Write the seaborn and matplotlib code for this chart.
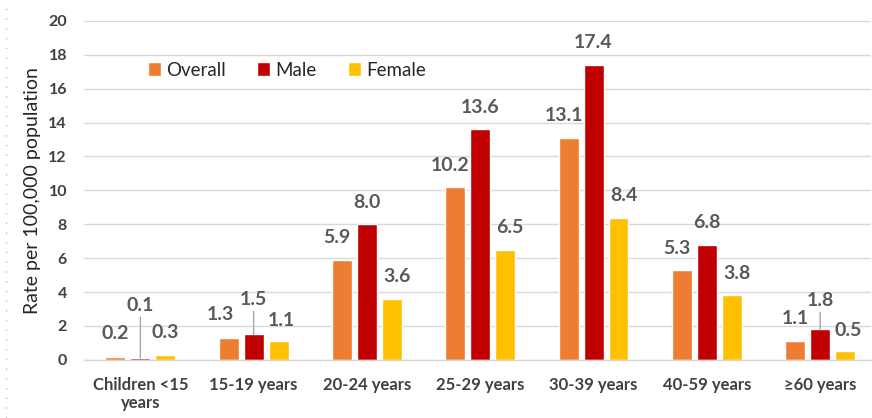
import pandas as pd
import seaborn as sns
import matplotlib.pyplot as plt
from matplotlib.lines import Line2D

# data
age_groups = ['Children <15\nyears', '15-19 years', '20-24 years', '25-29 years',
              '30-39 years', '40-59 years', '≥60 years']
overall = [0.2, 1.3, 5.9, 10.2, 13.1, 5.3, 1.1]
male = [0.1, 1.5, 8.0, 13.6, 17.4, 6.8, 1.8]
female = [0.3, 1.1, 3.6, 6.5, 8.4, 3.8, 0.5]
series = ['Overall', 'Male', 'Female']
colors = {'Overall': '#ED7D31', 'Male': '#C00000', 'Female': '#FFC000'}

df = pd.DataFrame({
    'group': age_groups * 3,
    'sex': ['Overall'] * 7 + ['Male'] * 7 + ['Female'] * 7,
    'rate': overall + male + female,
})

sns.set_style('white')
plt.rcParams['font.family'] = ['Lato', 'DejaVu Sans']

fig = plt.figure(figsize=(8.72, 4.18), dpi=100)
ax = fig.add_axes([0.096, 0.139, 0.903, 0.811])

sns.barplot(data=df, x='group', y='rate', hue='sex', order=age_groups,
            hue_order=series, palette=colors, width=0.66, gap=0.2,
            saturation=1, ax=ax, legend=True)

ax.set_ylim(0, 20)
ax.set_xlim(-0.5, 6.45)
ax.set_yticks(range(0, 21, 2))
ax.yaxis.grid(True, color='#D9D9D9', linewidth=1)
ax.set_axisbelow(True)
for s in ['top', 'right', 'left']:
    ax.spines[s].set_visible(False)
ax.spines['bottom'].set_color('#D9D9D9')
ax.spines['bottom'].set_linewidth(1)
ax.tick_params(axis='y', length=0, pad=12, labelsize=11.5, labelcolor='#404040')
ax.tick_params(axis='x', length=0, pad=12, labelsize=12, labelcolor='#404040')
for lbl in ax.get_xticklabels() + ax.get_yticklabels():
    lbl.set_fontweight('bold')
ax.set_xlabel('')
ax.set_ylabel('Rate per 100,000 population', fontsize=14, color='#262626', labelpad=5)

# value labels: default offset per series, a few moved up with leader lines
dx = {'Overall': -5, 'Male': 0, 'Female': 5}
moved = {(0, 'Male'): (0, 53), (1, 'Male'): (0, 35), (6, 'Male'): (0, 29),
         (0, 'Overall'): (0, 23), (0, 'Female'): (0, 22),
         (1, 'Overall'): (-8, 23), (1, 'Female'): (3, 21),
         (6, 'Overall'): (0, 23), (6, 'Female'): (3, 21)}
for name, cont in zip(series, ax.containers):
    for i, bar in enumerate(cont):
        h = bar.get_height()
        x = bar.get_x() + bar.get_width() / 2
        ox, oy = moved.get((i, name), (dx[name], 22))
        ax.annotate(f'{h:.1f}', (x, h), xytext=(ox, oy), textcoords='offset pixels',
                    ha='center', va='center', fontsize=14, fontweight='bold',
                    color='#595959')
        if oy > 28:
            ax.annotate('', (x, h), xytext=(0, oy - 12), textcoords='offset pixels',
                        arrowprops=dict(arrowstyle='-', color='#A6A6A6', lw=1,
                                        shrinkA=0, shrinkB=0))

ax.legend(title=None, frameon=False, ncol=3, fontsize=13.5,
          loc='center left', bbox_to_anchor=(0.06, 0.855),
          handlelength=0.7, handleheight=0.7, handletextpad=0.25,
          columnspacing=1.7, labelcolor='#262626')

# faint dotted line along the left edge
fig.add_artist(Line2D([0.007, 0.007], [0.0, 1.0], transform=fig.transFigure,
                      color='#BFBFBF', linestyle=(0, (1, 6)), linewidth=1))

fig.savefig('out.png', dpi=100)
